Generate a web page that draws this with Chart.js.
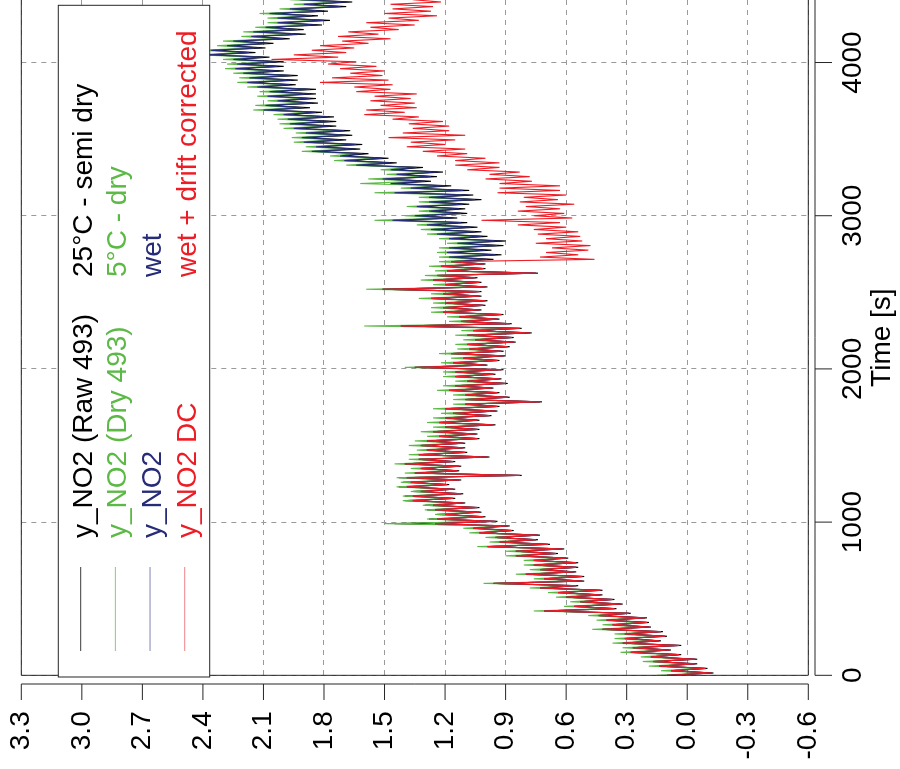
<!DOCTYPE html>
<html>
<head>
<meta charset="utf-8">
<script src="https://cdn.jsdelivr.net/npm/chart.js@4.4.1/dist/chart.umd.min.js"></script>
<style>
  html, body { margin: 0; padding: 0; background: #fff; overflow: hidden; }
  /* the figure is drawn upright, then turned a quarter left like the original print */
  #wrap {
    position: absolute; left: 0; top: 0;
    width: 769px; height: 900px;
    transform-origin: 0 0;
    transform: translate(0, 769px) rotate(-90deg);
  }
</style>
</head>
<body>
<div id="wrap"><canvas id="chart1" width="769" height="900"></canvas></div>
<script>
// time base of the samples [s]
const timeS = [0,15,30,45,60,75,90,105,120,135,150,165,180,195,210,225,240,255,270,285,
    300,315,330,345,360,375,390,405,420,435,450,465,480,495,510,525,540,555,570,585,
    600,615,630,645,660,675,690,705,720,735,750,765,780,795,810,825,840,855,870,885,
    900,915,930,945,960,975,990,1005,1020,1035,1050,1065,1080,1095,1110,1125,1140,1155,1170,1185,
    1200,1215,1230,1245,1260,1275,1290,1305,1320,1335,1350,1365,1380,1395,1410,1425,1440,1455,1470,1485,
    1500,1515,1530,1545,1560,1575,1590,1605,1620,1635,1650,1665,1680,1695,1710,1725,1740,1755,1770,1785,
    1800,1815,1830,1845,1860,1875,1890,1905,1920,1935,1950,1965,1980,1995,2010,2025,2040,2055,2070,2085,
    2100,2115,2130,2145,2160,2175,2190,2205,2220,2235,2250,2265,2280,2295,2310,2325,2340,2355,2370,2385,
    2400,2415,2430,2445,2460,2475,2490,2505,2520,2535,2550,2565,2580,2595,2610,2625,2640,2655,2670,2685,
    2700,2715,2730,2745,2760,2775,2790,2805,2820,2835,2850,2865,2880,2895,2910,2925,2940,2955,2970,2985,
    3000,3015,3030,3045,3060,3075,3090,3105,3120,3135,3150,3165,3180,3195,3210,3225,3240,3255,3270,3285,
    3300,3315,3330,3345,3360,3375,3390,3405,3420,3435,3450,3465,3480,3495,3510,3525,3540,3555,3570,3585,
    3600,3615,3630,3645,3660,3675,3690,3705,3720,3735,3750,3765,3780,3795,3810,3825,3840,3855,3870,3885,
    3900,3915,3930,3945,3960,3975,3990,4005,4020,4035,4050,4065,4080,4095,4110,4125,4140,4155,4170,4185,
    4200,4215,4230,4245,4260,4275,4290,4305,4320,4335,4350,4365,4380,4395,4410];

// y_NO2 (Raw 493) - 25°C semi dry
const rawNO2 = [0.10,-0.13,0.08,-0.10,0.14,-0.05,0.17,-0.05,0.18,0.03,
    0.28,0.08,0.27,0.03,0.32,0.13,0.31,0.10,0.31,0.12,
    0.42,0.18,0.37,0.19,0.40,0.20,0.44,0.28,0.71,0.35,
    0.56,0.32,0.53,0.36,0.60,0.42,0.64,0.42,0.73,0.54,
    0.96,0.51,0.71,0.51,0.80,0.55,0.73,0.54,0.76,0.54,
    0.76,0.59,0.85,0.64,0.85,0.61,0.99,0.68,0.93,0.74,
    0.95,0.73,1.03,0.86,1.06,0.88,1.45,0.94,1.28,1.00,
    1.24,1.02,1.29,1.03,1.30,1.10,1.40,1.15,1.40,1.11,
    1.36,1.15,1.43,1.18,1.41,1.12,1.43,0.82,1.35,1.13,
    1.32,1.12,1.40,1.15,1.33,0.98,1.33,1.09,1.29,1.10,
    1.32,1.10,1.29,1.03,1.23,1.04,1.26,1.03,1.20,0.95,
    1.23,1.03,1.20,0.97,1.16,0.94,1.20,0.93,1.10,0.72,
    1.10,0.88,1.10,0.93,1.18,0.96,1.15,0.89,1.09,0.92,
    1.15,0.95,1.15,0.91,1.35,0.99,1.16,0.93,1.11,0.90,
    1.17,0.91,1.08,0.88,1.09,0.85,1.05,0.86,1.09,0.77,
    1.06,0.82,1.42,0.87,1.12,0.93,1.13,0.91,1.21,1.02,
    1.21,1.00,1.20,0.99,1.27,1.02,1.21,1.02,1.51,0.99,
    1.20,1.02,1.26,1.04,1.24,0.74,1.19,1.00,1.22,1.00,
    1.17,0.96,1.17,0.92,1.18,0.97,1.17,0.91,1.13,0.90,
    1.17,0.99,1.23,1.02,1.26,1.04,1.28,1.09,1.45,1.14,
    1.34,1.09,1.27,1.10,1.33,1.08,1.27,1.02,1.27,1.06,
    1.44,1.08,1.36,1.17,1.46,1.27,1.50,1.24,1.43,1.21,
    1.46,1.31,1.63,1.44,1.69,1.48,1.71,1.58,1.85,1.62,
    1.83,1.61,1.89,1.69,1.90,1.66,1.88,1.67,1.94,1.74,
    1.96,1.74,1.97,1.75,1.99,1.81,2.09,1.87,2.08,1.83,
    2.02,1.84,2.07,1.84,2.06,1.84,2.12,1.94,2.17,1.93,
    2.16,1.93,2.19,2.00,2.23,2.00,2.22,2.00,2.24,2.07,
    2.37,2.14,2.35,2.09,2.27,2.05,2.24,1.97,2.15,1.89,
    2.14,1.90,2.08,1.81,2.02,1.77,2.02,1.83,2.06,1.78,
    1.96,1.69,1.89,1.66,1.91];

// y_NO2 (Dry 493) - 5°C dry
const dryNO2 = [0.15,-0.09,0.13,-0.06,0.19,-0.01,0.22,-0.01,0.23,0.07,
    0.33,0.12,0.32,0.07,0.37,0.17,0.36,0.14,0.36,0.16,
    0.47,0.22,0.42,0.23,0.45,0.24,0.49,0.32,0.76,0.39,
    0.61,0.36,0.58,0.40,0.65,0.46,0.69,0.46,0.78,0.58,
    1.01,0.55,0.76,0.55,0.85,0.59,0.78,0.58,0.81,0.58,
    0.81,0.63,0.90,0.68,0.90,0.65,1.04,0.72,0.98,0.78,
    1.00,0.77,1.08,0.90,1.11,0.92,1.50,0.98,1.29,1.04,
    1.25,1.06,1.30,1.07,1.31,1.14,1.41,1.19,1.41,1.15,
    1.37,1.19,1.44,1.22,1.42,1.16,1.44,0.86,1.40,1.17,
    1.37,1.16,1.45,1.19,1.38,1.02,1.38,1.13,1.34,1.14,
    1.38,1.14,1.35,1.07,1.29,1.08,1.32,1.07,1.26,0.99,
    1.29,1.07,1.26,1.01,1.22,0.98,1.26,0.97,1.16,0.76,
    1.16,0.92,1.16,0.97,1.24,1.00,1.21,0.93,1.15,0.96,
    1.21,0.99,1.21,0.95,1.40,1.03,1.22,0.97,1.17,0.94,
    1.23,0.95,1.14,0.92,1.15,0.89,1.11,0.90,1.15,0.81,
    1.12,0.86,1.60,0.91,1.18,0.97,1.19,0.95,1.27,1.06,
    1.27,1.04,1.26,1.03,1.33,1.06,1.27,1.06,1.59,1.03,
    1.26,1.06,1.32,1.08,1.30,0.78,1.25,1.04,1.28,1.04,
    1.23,1.02,1.23,0.98,1.24,1.03,1.23,0.97,1.19,0.96,
    1.23,1.05,1.29,1.08,1.32,1.10,1.34,1.15,1.55,1.20,
    1.40,1.15,1.33,1.16,1.39,1.14,1.33,1.08,1.33,1.12,
    1.55,1.14,1.42,1.23,1.62,1.33,1.58,1.30,1.49,1.27,
    1.52,1.37,1.69,1.50,1.75,1.54,1.77,1.64,1.91,1.68,
    1.89,1.67,1.95,1.75,1.96,1.72,1.94,1.73,2.00,1.80,
    2.02,1.80,2.03,1.81,2.05,1.87,2.15,1.93,2.14,1.89,
    2.08,1.90,2.13,1.90,2.12,1.90,2.18,2.00,2.23,1.99,
    2.22,1.99,2.25,2.06,2.29,2.06,2.28,2.06,2.30,2.13,
    2.43,2.20,2.41,2.15,2.33,2.11,2.30,2.03,2.21,1.95,
    2.20,1.96,2.14,1.87,2.08,1.83,2.08,1.89,2.12,1.84,
    2.02,1.75,1.95,1.72,1.97];

// y_NO2 - wet (same as DC until the drift correction starts)
const wetNO2 = [0.10,-0.12,0.08,-0.09,0.14,-0.04,0.17,-0.04,0.18,0.04,
    0.28,0.09,0.27,0.04,0.32,0.14,0.31,0.11,0.31,0.13,
    0.42,0.19,0.37,0.20,0.40,0.21,0.44,0.29,0.71,0.36,
    0.56,0.33,0.53,0.37,0.60,0.43,0.64,0.43,0.73,0.55,
    0.96,0.52,0.71,0.52,0.80,0.56,0.73,0.55,0.76,0.55,
    0.76,0.60,0.85,0.65,0.85,0.62,0.99,0.69,0.93,0.75,
    0.95,0.74,1.03,0.87,1.06,0.89,1.25,0.95,1.24,1.01,
    1.20,1.03,1.25,1.04,1.26,1.11,1.36,1.16,1.36,1.12,
    1.32,1.16,1.39,1.19,1.37,1.13,1.39,0.83,1.35,1.14,
    1.32,1.13,1.40,1.16,1.33,0.99,1.33,1.10,1.29,1.11,
    1.32,1.11,1.29,1.04,1.23,1.05,1.26,1.04,1.20,0.96,
    1.23,1.04,1.20,0.98,1.16,0.95,1.20,0.94,1.10,0.73,
    1.10,0.89,1.10,0.94,1.18,0.97,1.15,0.90,1.09,0.93,
    1.15,0.96,1.15,0.92,1.35,1.00,1.16,0.94,1.11,0.91,
    1.17,0.92,1.08,0.89,1.09,0.86,1.05,0.87,1.09,0.78,
    1.06,0.83,1.42,0.88,1.12,0.94,1.13,0.92,1.21,1.03,
    1.21,1.01,1.20,1.00,1.27,1.03,1.21,1.03,1.51,1.00,
    1.20,1.03,1.26,1.05,1.24,0.75,1.19,1.01,1.22,1.01,
    1.17,0.99,1.18,0.95,1.19,1.00,1.18,0.94,1.14,0.93,
    1.18,1.02,1.24,1.05,1.27,1.07,1.29,1.12,1.46,1.17,
    1.35,1.12,1.28,1.13,1.34,1.11,1.28,1.05,1.28,1.09,
    1.45,1.11,1.37,1.20,1.47,1.30,1.51,1.27,1.44,1.24,
    1.47,1.34,1.64,1.47,1.70,1.51,1.72,1.61,1.86,1.65,
    1.84,1.64,1.90,1.72,1.91,1.69,1.89,1.70,1.95,1.77,
    1.97,1.77,1.98,1.78,2.00,1.84,2.10,1.90,2.09,1.86,
    2.03,1.87,2.08,1.87,2.07,1.87,2.13,1.97,2.18,1.96,
    2.17,1.96,2.20,2.03,2.24,2.03,2.23,2.03,2.25,2.10,
    2.38,2.17,2.36,2.12,2.28,2.08,2.25,2.00,2.16,1.92,
    2.15,1.93,2.09,1.84,2.03,1.80,2.03,1.86,2.07,1.81,
    1.97,1.72,1.90,1.69,1.92];

// y_NO2 DC - wet + drift corrected
const dcNO2 = [0.10,-0.12,0.08,-0.09,0.14,-0.04,0.17,-0.04,0.18,0.04,
    0.28,0.09,0.27,0.04,0.32,0.14,0.31,0.11,0.31,0.13,
    0.42,0.19,0.37,0.20,0.40,0.21,0.44,0.29,0.71,0.36,
    0.56,0.33,0.53,0.37,0.60,0.43,0.64,0.43,0.73,0.55,
    0.96,0.52,0.71,0.52,0.80,0.56,0.73,0.55,0.76,0.55,
    0.76,0.60,0.85,0.65,0.85,0.62,0.99,0.69,0.93,0.75,
    0.95,0.74,1.03,0.87,1.06,0.89,1.25,0.95,1.24,1.01,
    1.20,1.03,1.25,1.04,1.26,1.11,1.36,1.16,1.36,1.12,
    1.32,1.16,1.39,1.19,1.37,1.13,1.39,0.83,1.35,1.14,
    1.32,1.13,1.40,1.16,1.33,0.99,1.33,1.10,1.29,1.11,
    1.32,1.11,1.29,1.04,1.23,1.05,1.26,1.04,1.20,0.96,
    1.23,1.04,1.20,0.98,1.16,0.95,1.20,0.94,1.10,0.73,
    1.10,0.89,1.10,0.94,1.18,0.97,1.15,0.90,1.09,0.93,
    1.15,0.96,1.15,0.92,1.35,1.00,1.16,0.94,1.11,0.91,
    1.17,0.92,1.08,0.89,1.09,0.86,1.05,0.87,1.09,0.78,
    1.06,0.83,1.42,0.88,1.12,0.94,1.13,0.92,1.21,1.03,
    1.21,1.01,1.20,1.00,1.27,1.03,1.21,1.03,1.51,1.00,
    1.20,1.03,1.26,1.05,1.24,0.75,1.19,1.01,1.22,1.01,
    1.17,0.46,0.73,0.54,0.70,0.49,0.67,0.48,0.75,0.52,
    0.70,0.53,0.74,0.54,0.76,0.60,0.84,0.63,1.02,0.57,
    0.76,0.61,0.84,0.63,0.80,0.56,0.83,0.64,0.81,0.60,
    0.94,0.63,0.93,0.63,0.93,0.77,1.00,0.78,0.98,0.83,
    1.09,0.93,1.15,0.93,1.15,1.00,1.24,1.09,1.31,1.10,
    1.39,1.20,1.37,1.15,1.48,1.10,1.41,1.18,1.36,1.18,
    1.38,1.21,1.46,1.33,1.60,1.40,1.59,1.34,1.52,1.35,
    1.57,1.37,1.55,1.34,1.64,1.47,1.65,1.46,1.82,1.48,
    1.76,1.51,1.67,1.50,1.72,1.54,1.78,1.64,2.06,1.73,
    1.95,1.69,1.86,1.65,1.82,1.58,1.71,1.47,1.73,1.53,
    1.68,1.43,1.57,1.35,1.59,1.33,1.48,1.24,1.50,1.27,
    1.46,1.26,1.47,1.22,1.36];

const valueTicks = [-0.6, -0.3, 0.0, 0.3, 0.6, 0.9, 1.2, 1.5, 1.8, 2.1, 2.4, 2.7, 3.0, 3.3];
const timeTicks = [0, 1000, 2000, 3000, 4000];

const legendRows = [
    { name: 'y_NO2 (Raw 493)', note: '25°C - semi dry', color: '#000000', line: '#3a3a3a' },
    { name: 'y_NO2 (Dry 493)', note: '5°C - dry', color: '#5cb946', line: '#86cc78' },
    { name: 'y_NO2', note: 'wet', color: '#262c78', line: '#8185b8' },
    { name: 'y_NO2 DC', note: 'wet + drift corrected', color: '#ee1c24', line: '#f2858a' }
];

const FONT = '"Liberation Sans", Arial, Helvetica, sans-serif';

function series(values, color, order) {
    return {
        data: values.map((v, i) => ({ x: timeS[i], y: v })),
        borderColor: color,
        borderWidth: 1.1,
        pointRadius: 0,
        tension: 0,
        fill: false,
        order: order
    };
}

// box, offset axes and the boxed legend (matlab look)
const framePlugin = {
    id: 'frame',
    afterDraw(chart) {
        const { ctx, chartArea: a, scales: { x, y } } = chart;
        ctx.save();
        ctx.strokeStyle = '#262626';
        ctx.lineWidth = 1;

        ctx.beginPath();
        ctx.moveTo(a.right, a.top);
        ctx.lineTo(a.left, a.top);
        ctx.lineTo(a.left, a.bottom);
        ctx.lineTo(a.right, a.bottom);
        ctx.stroke();

        // value axis, pushed a bit left of the box
        const ax = a.left - 8.7;
        ctx.beginPath();
        ctx.moveTo(ax, y.getPixelForValue(3.3));
        ctx.lineTo(ax, y.getPixelForValue(-0.6));
        valueTicks.forEach(v => {
            const py = y.getPixelForValue(v);
            ctx.moveTo(ax, py);
            ctx.lineTo(ax - 16, py);
        });
        // time axis, pushed a bit below the box
        const ay = a.bottom + 6.7;
        ctx.moveTo(x.getPixelForValue(0), ay);
        ctx.lineTo(a.right, ay);
        timeTicks.forEach(t => {
            const px = x.getPixelForValue(t);
            ctx.moveTo(px, ay);
            ctx.lineTo(px, ay + 17);
        });
        ctx.stroke();

        // legend
        const lx = a.left - 1.7, ly = a.top + 37;
        const lw = a.right - 5.3 - lx, lh = 151.4;
        ctx.fillStyle = '#fff';
        ctx.fillRect(lx, ly, lw, lh);
        ctx.strokeRect(lx, ly, lw, lh);

        ctx.font = '28px ' + FONT;
        ctx.textAlign = 'left';
        ctx.textBaseline = 'alphabetic';
        legendRows.forEach((r, i) => {
            const ry = a.top + 59.4 + i * 34.67;
            ctx.strokeStyle = r.line;
            ctx.beginPath();
            ctx.moveTo(a.left + 24.3, ry);
            ctx.lineTo(a.left + 108.3, ry);
            ctx.stroke();
            ctx.fillStyle = r.color;
            ctx.fillText(r.name, a.left + 137.3, ry + 11);
            ctx.fillText(r.note, a.left + 398.3, ry + 11);
        });
        ctx.restore();
    }
};

const tickFont = { size: 28, family: FONT };

let chart1 = new Chart(document.getElementById('chart1'), {
    type: 'line',
    data: {
        datasets: [
            series(rawNO2, '#000000', 4),
            series(dryNO2, '#5cb946', 3),
            series(wetNO2, '#262c78', 2),
            series(dcNO2, '#ee1c24', 1)
        ]
    },
    options: {
        responsive: false,
        animation: false,
        devicePixelRatio: 1,
        layout: { padding: { top: 21.3, right: 0, bottom: 0, left: 0 } },
        plugins: {
            legend: { display: false },
            tooltip: { enabled: false }
        },
        scales: {
            x: {
                type: 'linear',
                min: 0,
                max: 4408,
                afterFit: s => { s.height = 91.7; s.paddingLeft = 0; s.paddingRight = 0; },
                afterBuildTicks: s => { s.ticks = timeTicks.map(v => ({ value: v })); },
                ticks: { color: '#000', font: tickFont, padding: 28, maxRotation: 0, autoSkip: false,
                         callback: v => String(v) },
                grid: { color: '#9a9a9a', lineWidth: 1, drawTicks: false },
                border: { display: false, dash: [5, 5] },
                title: { display: true, text: 'Time [s]', color: '#000', font: tickFont, padding: { top: 0, bottom: 1 } }
            },
            y: {
                min: -0.6,
                max: 3.3,
                afterFit: s => { s.width = 93.7; s.paddingTop = 0; s.paddingBottom = 0; },
                afterBuildTicks: s => { s.ticks = valueTicks.map(v => ({ value: v })); },
                ticks: { color: '#000', font: tickFont, padding: 36, callback: v => v.toFixed(1) },
                grid: { color: '#9a9a9a', lineWidth: 1, drawTicks: false },
                border: { display: false, dash: [5, 5] }
            }
        }
    },
    plugins: [framePlugin]
});
</script>
</body>
</html>
